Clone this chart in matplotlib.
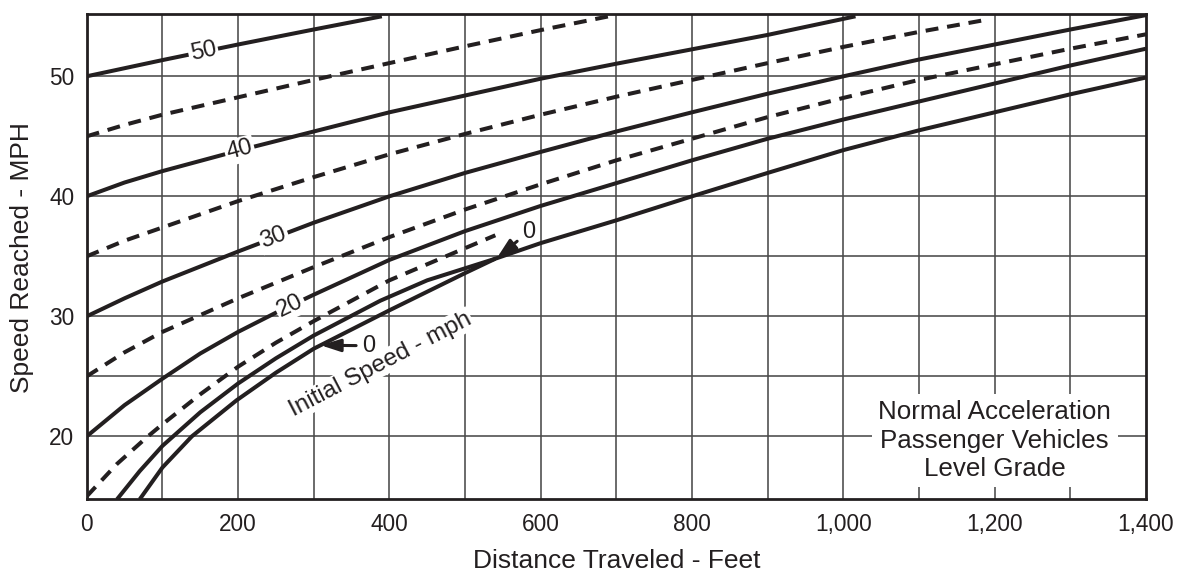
import numpy as np
import matplotlib
matplotlib.use("Agg")
import matplotlib.pyplot as plt

plt.rcParams['font.family'] = ['Liberation Sans', 'DejaVu Sans']

# ---------------- data ----------------
c50_x = [0, 100, 200, 300, 390]
c50_y = [50, 51.35, 52.65, 53.9, 55.0]

c45_x = [0, 50, 100, 200, 300, 400, 500, 600, 690]
c45_y = [45, 45.95, 46.8, 48.25, 49.7, 51.1, 52.5, 53.85, 55.0]

c40_x = [0, 50, 100, 200, 300, 400, 500, 600, 700, 800, 900, 1016]
c40_y = [40, 41.15, 42.1, 43.8, 45.4, 47.0, 48.4, 49.8, 51.05, 52.25, 53.45, 55.0]

c35_x = [0, 50, 100, 200, 300, 400, 500, 600, 700, 800, 900, 1000, 1100, 1188]
c35_y = [35, 36.3, 37.4, 39.6, 41.6, 43.5, 45.2, 46.8, 48.3, 49.7, 51.1, 52.45, 53.7, 54.7]

c30_x = [0, 50, 100, 200, 300, 400, 500, 600, 700, 800, 900, 1000, 1100, 1200, 1300, 1400]
c30_y = [30, 31.5, 32.9, 35.4, 37.8, 40.0, 41.95, 43.7, 45.4, 47.0, 48.55, 50.0, 51.4, 52.65, 53.9, 55.1]

c25_x = [0, 50, 100, 200, 300, 400, 500, 600, 700, 800, 900, 1000, 1100, 1200, 1300, 1400]
c25_y = [25, 27.0, 28.7, 31.5, 34.1, 36.6, 38.9, 41.0, 43.0, 44.8, 46.6, 48.2, 49.7, 51.0, 52.3, 53.5]

c20_x = [0, 50, 100, 150, 200, 250, 300, 400, 500, 600, 700, 800, 900, 1000, 1100, 1200, 1300, 1400]
c20_y = [20, 22.6, 24.8, 26.9, 28.7, 30.3, 31.8, 34.7, 37.1, 39.2, 41.1, 43.0, 44.8, 46.4, 47.9, 49.4, 50.9, 52.3]

c15_x = [0, 40, 79, 100, 150, 200, 250, 300, 400, 540]
c15_y = [15, 17.7, 19.9, 21.0, 23.5, 25.8, 27.8, 29.6, 33.0, 36.75]

c10_x = [40, 70, 100, 150, 200, 250, 300, 388, 450, 540]
c10_y = [14.75, 17.1, 19.2, 22.0, 24.4, 26.5, 28.4, 31.3, 33.0, 34.8]

c0_x = [70, 100, 139, 198, 250, 300, 400, 500, 540, 600, 700, 800, 900, 1000, 1100, 1200, 1300, 1400]
c0_y = [14.75, 17.4, 20, 23, 25.3, 27.3, 30.5, 33.6, 34.8, 36.1, 38.0, 40.0, 41.95, 43.85, 45.5, 47.0, 48.5, 49.9]

x_ticks = [0, 200, 400, 600, 800, 1000, 1200, 1400]
x_tick_labels = ['0', '200', '400', '600', '800', '1,000', '1,200', '1,400']
y_ticks = [20, 30, 40, 50]
y_tick_labels = ['20', '30', '40', '50']
x_grid = [100, 200, 300, 400, 500, 600, 700, 800, 900, 1000, 1100, 1200, 1300]
y_grid = [20, 25, 30, 35, 40, 45, 50]

# ---------------- styling ----------------
INK = '#231f20'
GRID = '#4a4a4a'
FS_TICK = 16.3
FS_AXIS = 19.0
FS_NOTE = 18.7
FS_CURVE = 17
LW = 2.9

fig = plt.figure(figsize=(11.77, 5.73), dpi=100)
ax = fig.add_axes([0.0737, 0.1286, 0.9000, 0.8461])
ax.set_xlim(0, 1400)
ax.set_ylim(14.75, 55.15)

for gx in x_grid:
    ax.axvline(gx, color=GRID, lw=1.15, zorder=1)
for gy in y_grid:
    ax.axhline(gy, color=GRID, lw=1.15, zorder=1)

solid = [(c50_x, c50_y), (c40_x, c40_y), (c30_x, c30_y), (c20_x, c20_y),
         (c10_x, c10_y), (c0_x, c0_y)]
dashed = [(c45_x, c45_y), (c35_x, c35_y), (c25_x, c25_y), (c15_x, c15_y)]

for xs, ys in solid:
    ax.plot(xs, ys, color=INK, lw=LW, solid_capstyle='butt',
            solid_joinstyle='round', zorder=3)
for xs, ys in dashed:
    ax.plot(xs, ys, color=INK, lw=LW, linestyle=(0, (3.2, 2.2)),
            dash_capstyle='butt', zorder=3)

ax.set_xticks(x_ticks)
ax.set_xticklabels(x_tick_labels)
ax.set_yticks(y_ticks)
ax.set_yticklabels(y_tick_labels)
ax.tick_params(axis='both', length=0, labelsize=FS_TICK, labelcolor=INK)
ax.tick_params(axis='x', pad=10)
ax.tick_params(axis='y', pad=9)

for s in ax.spines.values():
    s.set_linewidth(2.0)
    s.set_color(INK)
    s.set_zorder(5)

fig.text(616.4 / 1177, 1 - 567.5 / 573, 'Distance Traveled - Feet', fontsize=FS_AXIS,
         color=INK, ha='center', va='baseline')
fig.text(22.5 / 1177, 1 - 257.5 / 573, 'Speed Reached - MPH', fontsize=FS_AXIS,
         color=INK, ha='center', va='center', rotation=90)


def angle_at(xs, ys, x0, dx=40):
    xa, xb = x0 - dx, x0 + dx
    ya, yb = np.interp(xa, xs, ys), np.interp(xb, xs, ys)
    p1 = ax.transData.transform((xa, ya))
    p2 = ax.transData.transform((xb, yb))
    return np.degrees(np.arctan2(p2[1] - p1[1], p2[0] - p1[0]))


bb = dict(boxstyle='square,pad=0.08', fc='white', ec='none')
for txt, (xs, ys), lx in [('50', (c50_x, c50_y), 154), ('40', (c40_x, c40_y), 202),
                          ('30', (c30_x, c30_y), 247), ('20', (c20_x, c20_y), 269)]:
    ly = np.interp(lx, xs, ys)
    ax.text(lx, ly, txt, fontsize=FS_CURVE, color=INK, ha='center', va='center',
            rotation=angle_at(xs, ys, lx), rotation_mode='anchor', bbox=bb, zorder=4)

arrow = dict(arrowstyle='-|>,head_length=0.7,head_width=0.22', color=INK, lw=2.2,
             shrinkA=2, shrinkB=0)
ax.annotate('0', xy=(309, np.interp(309, c0_x, c0_y)), xytext=(372, 27.55),
            fontsize=FS_CURVE, color=INK, ha='center', va='center', arrowprops=arrow,
            zorder=4)
ax.annotate('0', xy=(542, 34.85), xytext=(584, 37.05),
            fontsize=FS_CURVE, color=INK, ha='center', va='center', arrowprops=arrow,
            zorder=4)
ax.text(388, 26.0, 'Initial Speed - mph', fontsize=17.5, color=INK, ha='center',
        va='center', rotation=27.5, rotation_mode='anchor',
        bbox=dict(boxstyle='square,pad=0.05', fc='white', ec='none'), zorder=4)

ax.text(1200, 19.65, 'Normal Acceleration\nPassenger Vehicles\nLevel Grade',
        fontsize=FS_NOTE, color=INK, ha='center', va='center', multialignment='center',
        linespacing=1.22,
        bbox=dict(boxstyle='square,pad=0.25', fc='white', ec='none'), zorder=4)

fig.savefig('out.png', dpi=100)
